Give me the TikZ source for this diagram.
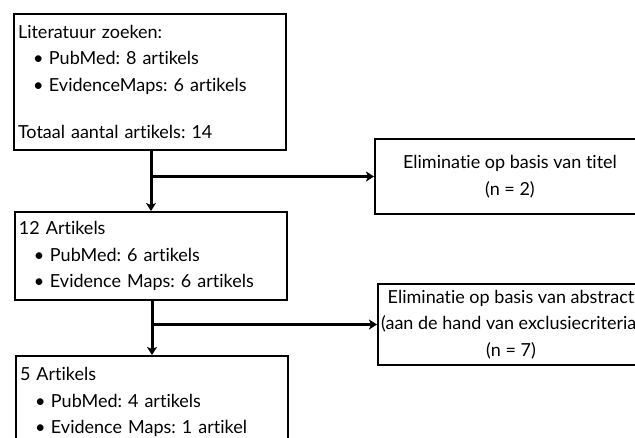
\documentclass[tikz,border=0pt]{standalone}
\usepackage{fontspec}
\setmainfont{Lato}[Ligatures=NoCommon]
\usetikzlibrary{arrows.meta}
\usetikzlibrary{calc}
\frenchspacing
\def\boxfont{\fontsize{18pt}{26.5pt}\selectfont}
\newcommand\itembullet{\makebox[31pt][l]{\hspace*{15pt}\textbullet}}

\begin{document}
\begin{tikzpicture}[
    x=1pt, y=-1pt,
    stepbox/.style={
      draw, line width=2pt, anchor=north west, align=left,
      font=\boxfont, inner xsep=4pt, inner ysep=0pt
    },
    elimbox/.style={
      draw, line width=2pt, anchor=north west, align=center,
      font=\boxfont, inner sep=0pt
    },
    arrowtip/.style={
      line width=3pt, -{Stealth[length=8pt,width=10pt,inset=2pt]}
    }
  ]
    \useasboundingbox (0,0) rectangle (635,438);
    \clip (0,0) rectangle (635,438);

    \node[stepbox, text width=264pt, minimum height=136pt] (Search) at (13,13)
      { Literatuur zoeken:\\
        \itembullet PubMed: 8 artikels\\
        \itembullet EvidenceMaps: 6 artikels\\[21pt]
        Totaal aantal artikels: 14 };
    \node[stepbox, text width=264pt, minimum height=88pt] (Twelve) at (14,211)
      { 12 Artikels\\
        \itembullet PubMed: 6 artikels\\
        \itembullet Evidence Maps: 6 artikels };
    \node[stepbox, text width=264pt, minimum height=92pt] (Five) at (15,355)
      { 5 Artikels\\
        \itembullet PubMed: 4 artikels\\
        \itembullet Evidence Maps: 1 artikel };

    \node[elimbox, minimum width=270pt, minimum height=75pt] (ElimTitle) at (374,138)
      { Eliminatie op basis van titel\\ (n = 2) };
    \node[elimbox, minimum width=266pt, minimum height=81pt] (ElimAbstract) at (377,283)
      { Eliminatie op basis van abstract\\
        (aan de hand van exclusiecriteria)\\ (n = 7) };

    \draw[arrowtip] (Twelve.north |- Search.south) -- (Twelve.north);
    \draw[arrowtip] (Twelve.north |- ElimTitle.west) -- (ElimTitle.west);
    \draw[arrowtip] (Five.north |- Twelve.south) -- (Five.north);
    \draw[arrowtip] (Five.north |- ElimAbstract.west) -- (ElimAbstract.west);
  \end{tikzpicture}
\end{document}
